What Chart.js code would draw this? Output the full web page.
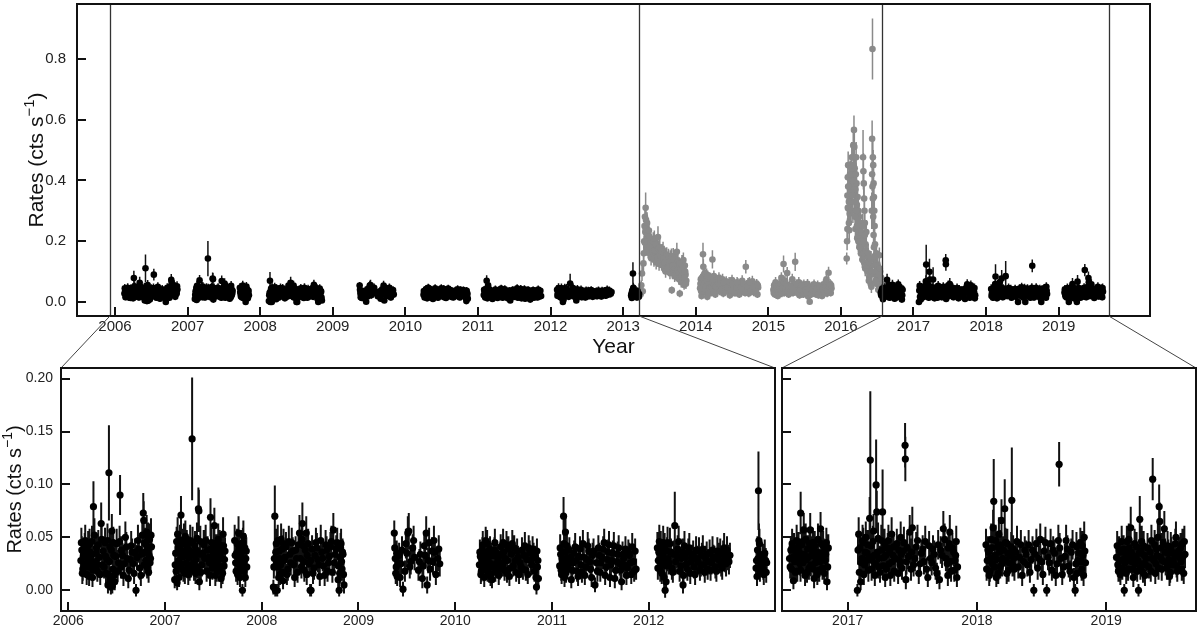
<!DOCTYPE html>
<html>
<head>
<meta charset="utf-8">
<title>Rates light curve</title>
<script src="https://cdn.jsdelivr.net/npm/chart.js@4.4.1/dist/chart.umd.min.js"></script>
<style>
  html, body { margin: 0; padding: 0; background: #fff; }
  #wrap { position: relative; width: 1200px; height: 633px; }
  canvas { position: absolute; left: 0; top: 0; }
</style>
</head>
<body>
<div id="wrap">
  <canvas id="topPanel" width="1200" height="633"></canvas>
  <canvas id="leftPanel" width="1200" height="633"></canvas>
  <canvas id="rightPanel" width="1200" height="633"></canvas>
</div>
<script>
// observing seasons, each point is [year, rate, error]
const bk2006 = [[2006.13,.028,.012],[2006.14,.038,.013],[2006.15,.020,.011],[2006.16,.034,.012],[2006.17,.041,.013],[2006.18,.025,.012],[2006.19,.015,.010],[2006.20,.036,.013],[2006.21,.030,.012],[2006.22,.044,.014],[2006.23,.022,.011],[2006.24,.033,.012],[2006.25,.012,.009],[2006.26,.079,.024],[2006.27,.052,.016],[2006.28,.027,.012],[2006.29,.040,.013],[2006.30,.018,.010],[2006.32,.031,.012],[2006.34,.063,.020],[2006.35,.024,.011],[2006.36,.037,.013],[2006.38,.045,.014],[2006.39,.016,.010],[2006.40,.029,.012],[2006.41,.005,.008],[2006.42,.111,.045],[2006.43,.041,.014],[2006.44,.003,.007],[2006.45,.056,.016],[2006.46,.020,.011],[2006.47,.033,.013],[2006.48,.008,.008],[2006.50,.044,.014],[2006.52,.026,.012],[2006.535,.090,.019],[2006.55,.038,.013],[2006.57,.014,.010],[2006.59,.050,.015],[2006.61,.030,.012],[2006.63,.019,.011],[2006.65,.042,.014],[2006.67,.025,.012],[2006.69,.036,.013],[2006.70,.000,.006],[2006.72,.047,.015],[2006.74,.021,.011],[2006.76,.034,.013],[2006.775,.073,.019],[2006.78,.066,.018],[2006.79,.045,.014],[2006.80,.028,.012],[2006.81,.055,.016],[2006.82,.038,.013],[2006.83,.017,.010],[2006.84,.048,.015],[2006.85,.030,.012],[2006.86,.041,.013],
  [2006.135,.045,.014],[2006.145,.016,.010],[2006.155,.032,.012],[2006.165,.024,.011],[2006.175,.047,.015],[2006.185,.031,.012],[2006.195,.022,.011],[2006.205,.042,.014],[2006.215,.013,.009],[2006.225,.036,.013],[2006.235,.028,.012],[2006.245,.046,.015],[2006.255,.019,.010],[2006.285,.035,.013],[2006.295,.024,.011],[2006.31,.043,.014],[2006.33,.015,.010],[2006.345,.048,.015],[2006.37,.022,.011],[2006.385,.032,.012],[2006.405,.047,.016],[2006.415,.015,.010],[2006.425,.027,.012],[2006.435,.010,.008],[2006.445,.038,.013],[2006.455,.004,.007],[2006.465,.045,.015],[2006.475,.014,.010],[2006.49,.032,.012],[2006.51,.018,.010],[2006.53,.046,.015],[2006.545,.022,.011],[2006.56,.033,.012],[2006.58,.025,.012],[2006.60,.041,.014],[2006.62,.011,.009],[2006.64,.029,.012],[2006.66,.036,.013],[2006.68,.016,.010],[2006.71,.031,.012],[2006.73,.039,.013],[2006.75,.014,.010],[2006.765,.052,.016],[2006.785,.024,.011],[2006.795,.036,.013],[2006.805,.043,.014],[2006.815,.022,.011],[2006.825,.049,.015],[2006.835,.033,.012],[2006.845,.026,.012],[2006.855,.052,.016]];
const bk2007 = [[2007.10,.010,.008],[2007.11,.035,.013],[2007.12,.046,.014],[2007.125,.007,.007],[2007.13,.053,.016],[2007.14,.028,.012],[2007.15,.039,.013],[2007.16,.022,.011],[2007.165,.071,.018],[2007.17,.033,.012],[2007.18,.044,.014],[2007.19,.019,.011],[2007.20,.037,.013],[2007.21,.051,.015],[2007.22,.026,.012],[2007.23,.040,.013],[2007.24,.015,.010],[2007.25,.031,.012],[2007.26,.047,.015],[2007.27,.023,.011],[2007.28,.143,.058],[2007.29,.036,.013],[2007.30,.020,.011],[2007.31,.042,.014],[2007.32,.029,.012],[2007.33,.049,.015],[2007.345,.077,.020],[2007.35,.075,.020],[2007.355,.008,.008],[2007.36,.034,.013],[2007.38,.024,.011],[2007.40,.043,.014],[2007.41,.030,.012],[2007.43,.018,.010],[2007.44,.038,.013],[2007.46,.026,.012],[2007.47,.069,.018],[2007.48,.045,.014],[2007.49,.021,.011],[2007.50,.034,.013],[2007.51,.061,.017],[2007.52,.014,.010],[2007.53,.040,.013],[2007.54,.027,.012],[2007.55,.048,.015],[2007.56,.019,.011],[2007.57,.035,.013],[2007.58,.011,.009],[2007.59,.030,.012],[2007.60,.053,.016],[2007.61,.023,.011],[2007.62,.037,.013],
  [2007.105,.024,.011],[2007.115,.018,.010],[2007.135,.040,.014],[2007.145,.012,.009],[2007.155,.047,.015],[2007.17,.025,.012],[2007.185,.032,.012],[2007.195,.048,.015],[2007.205,.016,.010],[2007.215,.035,.013],[2007.225,.043,.014],[2007.235,.022,.011],[2007.245,.038,.013],[2007.255,.019,.010],[2007.265,.034,.013],[2007.285,.045,.015],[2007.295,.026,.012],[2007.305,.033,.012],[2007.315,.016,.010],[2007.325,.038,.013],[2007.335,.022,.011],[2007.365,.046,.015],[2007.37,.017,.010],[2007.39,.035,.013],[2007.42,.047,.015],[2007.45,.031,.012],[2007.465,.014,.010],[2007.475,.039,.013],[2007.485,.028,.012],[2007.505,.044,.014],[2007.515,.024,.011],[2007.525,.031,.012],[2007.535,.018,.010],[2007.545,.036,.013],[2007.555,.029,.012],[2007.565,.043,.014],[2007.575,.022,.011],[2007.585,.038,.013],[2007.595,.016,.010],[2007.605,.042,.014],[2007.615,.029,.012]];
const bk2007b = [[2007.72,.047,.015],[2007.73,.026,.012],[2007.74,.035,.013],[2007.75,.015,.010],[2007.76,.054,.016],[2007.77,.030,.012],[2007.78,.020,.011],[2007.79,.043,.014],[2007.80,.000,.006],[2007.81,.051,.015],[2007.82,.028,.012],[2007.83,.012,.009],[2007.84,.037,.013],[2007.845,.022,.011],
  [2007.725,.033,.012],[2007.735,.018,.010],[2007.745,.044,.014],[2007.755,.025,.012],[2007.765,.039,.013],[2007.775,.012,.009],[2007.785,.034,.013],[2007.795,.026,.012],[2007.805,.045,.014],[2007.815,.018,.010],[2007.825,.040,.014],[2007.835,.030,.012]];
const bk2008 = [[2008.12,.003,.007],[2008.13,.030,.012],[2008.135,.070,.029],[2008.14,.000,.006],[2008.15,.044,.014],[2008.16,.000,.006],[2008.17,.022,.011],[2008.18,.037,.013],[2008.19,.015,.010],[2008.20,.048,.015],[2008.22,.009,.008],[2008.23,.028,.012],[2008.25,.041,.014],[2008.27,.020,.011],[2008.29,.034,.013],[2008.31,.045,.014],[2008.33,.024,.011],[2008.35,.038,.013],[2008.37,.017,.010],[2008.39,.054,.017],[2008.40,.030,.012],[2008.42,.063,.020],[2008.43,.042,.014],[2008.44,.019,.011],[2008.46,.054,.016],[2008.47,.033,.012],[2008.49,.025,.012],[2008.50,.000,.006],[2008.51,.000,.006],[2008.52,.039,.013],[2008.54,.021,.011],[2008.56,.045,.014],[2008.58,.029,.012],[2008.60,.013,.009],[2008.62,.036,.013],[2008.64,.023,.011],[2008.66,.043,.014],[2008.68,.018,.010],[2008.70,.032,.012],[2008.72,.046,.015],[2008.74,.057,.016],[2008.75,.026,.012],[2008.77,.039,.013],[2008.79,.010,.009],[2008.80,.000,.006],[2008.81,.031,.012],[2008.82,.044,.014],[2008.83,.020,.011],[2008.84,.034,.013],[2008.85,.005,.008],
  [2008.125,.022,.011],[2008.145,.036,.013],[2008.155,.026,.012],[2008.165,.047,.015],[2008.175,.012,.009],[2008.185,.030,.012],[2008.195,.024,.011],[2008.21,.039,.013],[2008.215,.017,.010],[2008.225,.044,.014],[2008.24,.031,.012],[2008.26,.015,.010],[2008.28,.046,.015],[2008.30,.026,.012],[2008.32,.037,.013],[2008.34,.012,.009],[2008.36,.030,.012],[2008.38,.043,.014],[2008.41,.022,.011],[2008.415,.048,.015],[2008.435,.027,.012],[2008.45,.038,.013],[2008.465,.015,.010],[2008.48,.044,.014],[2008.505,.028,.012],[2008.53,.016,.010],[2008.55,.033,.012],[2008.57,.040,.014],[2008.59,.024,.011],[2008.61,.047,.015],[2008.63,.030,.012],[2008.65,.014,.010],[2008.67,.038,.013],[2008.69,.026,.012],[2008.71,.041,.014],[2008.73,.017,.010],[2008.76,.034,.013],[2008.78,.045,.014],[2008.795,.023,.011],[2008.805,.016,.010],[2008.815,.040,.014],[2008.825,.027,.012],[2008.835,.036,.013],[2008.845,.015,.010]];
const bk2009 = [[2009.37,.054,.012],[2009.38,.030,.012],[2009.39,.022,.011],[2009.40,.013,.009],[2009.42,.033,.012],[2009.44,.025,.011],[2009.46,.001,.007],[2009.48,.018,.010],[2009.50,.035,.013],[2009.51,.054,.016],[2009.52,.056,.017],[2009.54,.027,.012],[2009.56,.040,.013],[2009.58,.031,.012],[2009.62,.019,.010],[2009.64,.034,.012],[2009.66,.011,.009],[2009.68,.042,.014],[2009.70,.054,.016],[2009.71,.005,.008],[2009.72,.028,.012],[2009.74,.020,.011],[2009.76,.037,.013],[2009.78,.047,.014],[2009.80,.015,.010],[2009.82,.030,.012],[2009.84,.025,.012],
  [2009.375,.040,.013],[2009.385,.016,.010],[2009.395,.035,.012],[2009.41,.026,.011],[2009.43,.012,.009],[2009.45,.038,.013],[2009.49,.044,.014],[2009.53,.022,.011],[2009.57,.047,.014],[2009.63,.027,.012],[2009.67,.023,.011],[2009.69,.033,.012],[2009.73,.045,.014],[2009.77,.027,.012],[2009.79,.036,.013],[2009.83,.039,.013]];
const bk2010 = [[2010.25,.024,.010],[2010.26,.032,.011],[2010.27,.018,.010],[2010.28,.038,.012],[2010.29,.027,.011],[2010.30,.012,.009],[2010.31,.035,.012],[2010.32,.021,.010],[2010.33,.044,.013],[2010.34,.029,.011],[2010.35,.016,.009],[2010.36,.039,.012],[2010.37,.025,.011],[2010.38,.010,.008],[2010.40,.033,.012],[2010.41,.045,.013],[2010.42,.022,.010],[2010.44,.030,.011],[2010.45,.014,.009],[2010.47,.041,.012],[2010.48,.026,.011],[2010.50,.036,.012],[2010.51,.019,.010],[2010.53,.043,.013],[2010.54,.028,.011],[2010.56,.013,.009],[2010.58,.034,.012],[2010.60,.023,.010],[2010.61,.040,.012],[2010.63,.017,.009],[2010.65,.031,.011],[2010.67,.026,.011],[2010.69,.038,.012],[2010.70,.020,.010],[2010.72,.042,.013],[2010.74,.029,.011],[2010.75,.015,.009],[2010.77,.035,.012],[2010.79,.024,.010],[2010.80,.039,.012],[2010.82,.018,.010],[2010.83,.031,.011],[2010.84,.003,.007],[2010.85,.022,.010],[2010.86,.011,.008],
  [2010.255,.036,.012],[2010.265,.015,.009],[2010.275,.029,.011],[2010.285,.043,.013],[2010.295,.021,.010],[2010.305,.031,.011],[2010.315,.047,.013],[2010.325,.027,.011],[2010.335,.018,.010],[2010.345,.037,.012],[2010.355,.025,.011],[2010.365,.013,.009],[2010.375,.033,.012],[2010.39,.022,.010],[2010.405,.038,.012],[2010.415,.017,.009],[2010.43,.035,.012],[2010.435,.026,.011],[2010.46,.020,.010],[2010.465,.033,.012],[2010.49,.024,.011],[2010.495,.045,.013],[2010.52,.030,.011],[2010.535,.016,.009],[2010.55,.039,.012],[2010.57,.021,.010],[2010.59,.044,.013],[2010.62,.028,.011],[2010.64,.037,.012],[2010.66,.015,.009],[2010.68,.022,.010],[2010.71,.033,.012],[2010.73,.019,.010],[2010.76,.040,.012],[2010.78,.028,.011],[2010.81,.033,.012],[2010.835,.012,.009],[2010.845,.037,.012],[2010.855,.028,.011]];
const bk2011 = [[2011.08,.023,.010],[2011.09,.034,.012],[2011.10,.015,.009],[2011.11,.028,.011],[2011.12,.070,.018],[2011.125,.044,.013],[2011.13,.012,.009],[2011.14,.055,.016],[2011.15,.030,.011],[2011.16,.021,.010],[2011.18,.038,.012],[2011.20,.010,.008],[2011.22,.026,.011],[2011.24,.041,.013],[2011.26,.018,.010],[2011.28,.032,.011],[2011.30,.024,.010],[2011.32,.044,.013],[2011.34,.014,.009],[2011.36,.029,.011],[2011.38,.037,.012],[2011.40,.020,.010],[2011.42,.033,.012],[2011.445,.005,.007],[2011.46,.026,.011],[2011.48,.040,.012],[2011.50,.017,.009],[2011.52,.031,.011],[2011.54,.045,.013],[2011.56,.022,.010],[2011.58,.036,.012],[2011.60,.012,.009],[2011.62,.028,.011],[2011.64,.042,.013],[2011.66,.019,.010],[2011.68,.034,.012],[2011.70,.025,.011],[2011.72,.008,.008],[2011.74,.030,.011],[2011.76,.039,.012],[2011.78,.021,.010],[2011.80,.033,.012],[2011.82,.015,.009],[2011.84,.027,.011],[2011.86,.037,.012],[2011.87,.020,.010],
  [2011.085,.040,.013],[2011.095,.019,.010],[2011.105,.030,.011],[2011.115,.024,.011],[2011.135,.036,.012],[2011.145,.017,.010],[2011.155,.042,.013],[2011.17,.025,.011],[2011.19,.031,.011],[2011.21,.019,.010],[2011.23,.035,.012],[2011.25,.028,.011],[2011.27,.013,.009],[2011.29,.039,.012],[2011.31,.017,.010],[2011.33,.031,.011],[2011.35,.022,.010],[2011.37,.042,.013],[2011.39,.027,.011],[2011.41,.012,.009],[2011.43,.037,.012],[2011.47,.018,.010],[2011.49,.033,.012],[2011.51,.026,.011],[2011.53,.039,.012],[2011.55,.014,.009],[2011.57,.029,.011],[2011.59,.043,.013],[2011.61,.024,.011],[2011.63,.035,.012],[2011.65,.011,.009],[2011.67,.027,.011],[2011.69,.040,.012],[2011.71,.019,.010],[2011.73,.034,.012],[2011.75,.024,.011],[2011.77,.014,.009],[2011.79,.036,.012],[2011.81,.026,.011],[2011.83,.041,.013],[2011.85,.018,.010]];
const bk2012 = [[2012.09,.040,.015],[2012.10,.028,.012],[2012.11,.046,.016],[2012.12,.019,.011],[2012.13,.035,.013],[2012.14,.024,.012],[2012.15,.045,.016],[2012.16,.012,.010],[2012.17,.000,.007],[2012.18,.008,.009],[2012.19,.037,.013],[2012.20,.030,.012],[2012.22,.044,.015],[2012.24,.021,.011],[2012.26,.034,.013],[2012.27,.061,.032],[2012.28,.027,.012],[2012.30,.039,.013],[2012.32,.018,.010],[2012.34,.030,.012],[2012.355,.005,.008],[2012.37,.042,.014],[2012.39,.025,.011],[2012.41,.036,.013],[2012.43,.016,.010],[2012.45,.031,.012],[2012.47,.022,.011],[2012.49,.038,.013],[2012.51,.027,.012],[2012.53,.019,.010],[2012.55,.033,.012],[2012.57,.024,.011],[2012.59,.030,.012],[2012.61,.020,.010],[2012.63,.035,.013],[2012.65,.026,.011],[2012.67,.031,.012],[2012.69,.022,.011],[2012.71,.037,.013],[2012.73,.028,.012],[2012.75,.024,.011],[2012.77,.034,.013],[2012.79,.029,.012],[2012.81,.038,.013],[2012.83,.027,.012],[2012.84,.033,.012],
  [2012.095,.021,.011],[2012.105,.036,.013],[2012.115,.029,.012],[2012.125,.042,.014],[2012.135,.016,.010],[2012.145,.033,.012],[2012.155,.027,.012],[2012.165,.040,.014],[2012.185,.023,.011],[2012.195,.045,.015],[2012.21,.026,.011],[2012.23,.036,.013],[2012.25,.017,.010],[2012.29,.033,.012],[2012.31,.046,.015],[2012.33,.023,.011],[2012.35,.036,.013],[2012.36,.014,.010],[2012.38,.031,.012],[2012.40,.020,.011],[2012.42,.040,.014],[2012.44,.027,.012],[2012.46,.034,.013],[2012.48,.015,.010],[2012.50,.030,.012],[2012.52,.037,.013],[2012.54,.024,.011],[2012.56,.039,.013],[2012.58,.017,.010],[2012.60,.034,.012],[2012.62,.027,.012],[2012.64,.019,.010],[2012.66,.038,.013],[2012.68,.030,.012],[2012.70,.018,.010],[2012.72,.033,.012],[2012.74,.036,.013],[2012.76,.021,.011],[2012.78,.040,.014],[2012.80,.025,.012],[2012.82,.031,.012]];
const bk2013 = [[2013.11,.021,.010],[2013.12,.013,.009],[2013.13,.030,.012],[2013.135,.094,.037],[2013.14,.047,.016],[2013.145,.044,.014],[2013.15,.018,.010],[2013.16,.024,.011],[2013.18,.032,.012],[2013.19,.015,.010],[2013.21,.028,.012],[2013.22,.026,.011],
  [2013.115,.028,.012],[2013.125,.038,.013],[2013.155,.033,.012],[2013.17,.026,.011],[2013.185,.020,.010],[2013.20,.035,.013],[2013.215,.017,.010]];
const bk2016 = [[2016.55,.030,.012],[2016.56,.038,.013],[2016.565,.020,.011],[2016.57,.044,.014],[2016.58,.009,.008],[2016.59,.027,.012],[2016.60,.035,.013],[2016.61,.018,.010],[2016.62,.041,.014],[2016.63,.025,.011],[2016.636,.073,.020],[2016.64,.032,.012],[2016.65,.046,.014],[2016.66,.057,.016],[2016.67,.014,.010],[2016.68,.029,.012],[2016.69,.039,.013],[2016.70,.021,.011],[2016.71,.057,.016],[2016.72,.033,.012],[2016.73,.045,.014],[2016.74,.011,.009],[2016.75,.026,.012],[2016.76,.036,.013],[2016.77,.048,.015],[2016.78,.019,.011],[2016.79,.058,.016],[2016.80,.031,.012],[2016.81,.042,.014],[2016.82,.016,.010],[2016.83,.034,.013],[2016.84,.008,.008],[2016.85,.040,.013],
  [2016.555,.022,.011],[2016.575,.031,.012],[2016.585,.040,.014],[2016.595,.017,.010],[2016.605,.047,.015],[2016.615,.029,.012],[2016.625,.036,.013],[2016.635,.019,.011],[2016.645,.043,.014],[2016.655,.026,.012],[2016.665,.034,.013],[2016.675,.048,.015],[2016.685,.017,.010],[2016.695,.031,.012],[2016.705,.044,.014],[2016.715,.024,.011],[2016.725,.038,.013],[2016.735,.020,.011],[2016.745,.042,.014],[2016.755,.030,.012],[2016.765,.015,.010],[2016.775,.035,.013],[2016.785,.027,.012],[2016.795,.044,.014],[2016.805,.021,.011],[2016.815,.036,.013],[2016.825,.028,.012],[2016.835,.045,.014],[2016.845,.022,.011]];
const bk2017 = [[2017.075,.000,.006],[2017.08,.038,.014],[2017.085,.053,.016],[2017.09,.017,.010],[2017.10,.008,.008],[2017.11,.030,.012],[2017.12,.045,.014],[2017.13,.024,.011],[2017.14,.050,.015],[2017.15,.035,.013],[2017.16,.019,.011],[2017.17,.068,.020],[2017.175,.123,.065],[2017.18,.042,.014],[2017.19,.028,.012],[2017.20,.056,.016],[2017.21,.014,.010],[2017.22,.0995,.043],[2017.225,.074,.020],[2017.23,.036,.013],[2017.24,.022,.011],[2017.26,.047,.015],[2017.27,.074,.040],[2017.28,.031,.012],[2017.29,.012,.009],[2017.31,.040,.014],[2017.32,.025,.012],[2017.34,.053,.016],[2017.35,.033,.012],[2017.36,.018,.010],[2017.38,.044,.014],[2017.40,.028,.012],[2017.41,.050,.015],[2017.42,.021,.011],[2017.43,.037,.013],[2017.444,.137,.021],[2017.446,.124,.021],[2017.45,.010,.009],[2017.47,.032,.012],[2017.48,.055,.016],[2017.50,.059,.020],[2017.51,.024,.011],[2017.53,.041,.014],[2017.55,.016,.010],[2017.57,.035,.013],[2017.59,.027,.012],[2017.60,.046,.015],[2017.62,.012,.009],[2017.64,.030,.012],[2017.66,.039,.013],[2017.68,.021,.011],[2017.70,.043,.014],[2017.71,.010,.009],[2017.73,.033,.012],[2017.74,.058,.017],[2017.75,.048,.015],[2017.77,.025,.012],[2017.78,.040,.014],[2017.79,.055,.016],[2017.80,.018,.010],[2017.82,.036,.013],[2017.83,.028,.012],[2017.84,.046,.015],[2017.85,.022,.011],
  [2017.095,.040,.014],[2017.105,.026,.012],[2017.115,.047,.015],[2017.125,.015,.010],[2017.135,.036,.013],[2017.145,.028,.012],[2017.155,.043,.014],[2017.165,.031,.012],[2017.185,.020,.011],[2017.195,.046,.015],[2017.205,.033,.012],[2017.215,.025,.012],[2017.235,.049,.015],[2017.245,.030,.012],[2017.25,.017,.010],[2017.265,.038,.013],[2017.275,.023,.011],[2017.285,.044,.014],[2017.295,.033,.012],[2017.30,.020,.011],[2017.315,.047,.015],[2017.325,.036,.013],[2017.33,.014,.010],[2017.345,.027,.012],[2017.355,.041,.014],[2017.37,.030,.012],[2017.39,.016,.010],[2017.395,.038,.013],[2017.405,.024,.011],[2017.415,.034,.013],[2017.435,.045,.015],[2017.455,.027,.012],[2017.46,.040,.014],[2017.49,.020,.011],[2017.495,.036,.013],[2017.52,.030,.012],[2017.54,.047,.015],[2017.56,.025,.012],[2017.58,.039,.013],[2017.61,.020,.011],[2017.63,.042,.014],[2017.65,.026,.012],[2017.67,.034,.013],[2017.69,.016,.010],[2017.72,.038,.013],[2017.76,.030,.012],[2017.775,.014,.010],[2017.785,.044,.014],[2017.795,.027,.012],[2017.81,.040,.014],[2017.825,.019,.011],[2017.835,.033,.012],[2017.845,.012,.009]];
const bk2018 = [[2018.07,.043,.015],[2018.08,.028,.012],[2018.09,.036,.013],[2018.10,.018,.010],[2018.11,.048,.015],[2018.12,.025,.012],[2018.125,.059,.017],[2018.13,.084,.040],[2018.14,.033,.012],[2018.15,.012,.009],[2018.16,.041,.014],[2018.17,.053,.016],[2018.18,.022,.011],[2018.19,.066,.020],[2018.20,.030,.012],[2018.215,.077,.028],[2018.22,.045,.014],[2018.23,.016,.010],[2018.24,.035,.013],[2018.25,.026,.012],[2018.27,.085,.050],[2018.28,.039,.013],[2018.29,.020,.011],[2018.31,.046,.015],[2018.33,.031,.012],[2018.35,.014,.010],[2018.37,.038,.013],[2018.39,.024,.011],[2018.40,.043,.014],[2018.42,.029,.012],[2018.44,.000,.006],[2018.45,.034,.013],[2018.47,.021,.011],[2018.49,.048,.015],[2018.50,.027,.012],[2018.52,.037,.013],[2018.54,.000,.006],[2018.55,.031,.012],[2018.57,.044,.014],[2018.58,.019,.010],[2018.60,.035,.013],[2018.62,.025,.012],[2018.636,.119,.021],[2018.64,.040,.014],[2018.66,.015,.010],[2018.68,.032,.012],[2018.69,.047,.015],[2018.71,.023,.011],[2018.73,.036,.013],[2018.75,.012,.009],[2018.76,.000,.006],[2018.77,.041,.014],[2018.78,.028,.012],[2018.80,.045,.014],[2018.81,.020,.011],[2018.82,.033,.012],[2018.83,.050,.015],[2018.84,.026,.012],
  [2018.075,.020,.011],[2018.085,.038,.013],[2018.095,.014,.010],[2018.105,.030,.012],[2018.115,.040,.014],[2018.135,.022,.011],[2018.145,.047,.015],[2018.155,.029,.012],[2018.165,.016,.010],[2018.175,.036,.013],[2018.185,.043,.014],[2018.195,.025,.012],[2018.205,.038,.013],[2018.225,.028,.012],[2018.235,.044,.014],[2018.245,.019,.011],[2018.255,.033,.012],[2018.265,.041,.014],[2018.275,.024,.011],[2018.285,.030,.012],[2018.30,.036,.013],[2018.32,.022,.011],[2018.34,.043,.014],[2018.36,.027,.012],[2018.38,.034,.013],[2018.41,.017,.010],[2018.43,.038,.013],[2018.46,.044,.014],[2018.48,.030,.012],[2018.51,.015,.010],[2018.53,.045,.015],[2018.56,.026,.012],[2018.59,.038,.013],[2018.61,.014,.010],[2018.63,.047,.015],[2018.65,.030,.012],[2018.67,.022,.011],[2018.70,.039,.013],[2018.72,.018,.010],[2018.74,.043,.014],[2018.765,.025,.012],[2018.775,.016,.010],[2018.79,.035,.013],[2018.805,.027,.012],[2018.815,.042,.014],[2018.825,.014,.010],[2018.835,.037,.013]];
const bk2019 = [[2019.08,.031,.012],[2019.09,.024,.011],[2019.10,.038,.013],[2019.11,.015,.010],[2019.12,.046,.015],[2019.13,.029,.012],[2019.14,.000,.006],[2019.15,.035,.013],[2019.16,.046,.015],[2019.17,.020,.011],[2019.18,.040,.014],[2019.19,.059,.020],[2019.20,.027,.012],[2019.21,.012,.009],[2019.22,.044,.014],[2019.23,.032,.012],[2019.24,.018,.010],[2019.25,.000,.006],[2019.26,.067,.022],[2019.27,.037,.013],[2019.28,.025,.012],[2019.29,.042,.014],[2019.30,.014,.010],[2019.31,.030,.012],[2019.33,.022,.011],[2019.34,.036,.013],[2019.35,.047,.015],[2019.36,.105,.020],[2019.37,.028,.012],[2019.38,.016,.010],[2019.39,.039,.013],[2019.40,.050,.015],[2019.41,.079,.021],[2019.415,.065,.018],[2019.42,.031,.012],[2019.43,.020,.011],[2019.44,.045,.014],[2019.45,.058,.017],[2019.46,.026,.012],[2019.48,.035,.013],[2019.49,.013,.009],[2019.50,.041,.014],[2019.51,.024,.011],[2019.53,.033,.012],[2019.54,.050,.015],[2019.55,.018,.010],[2019.56,.037,.013],[2019.58,.027,.012],[2019.59,.044,.014],[2019.60,.016,.010],[2019.61,.034,.013],
  [2019.085,.042,.014],[2019.095,.018,.010],[2019.105,.028,.012],[2019.115,.036,.013],[2019.125,.021,.011],[2019.135,.039,.013],[2019.145,.026,.012],[2019.155,.016,.010],[2019.165,.032,.012],[2019.175,.048,.015],[2019.185,.028,.012],[2019.195,.036,.013],[2019.205,.020,.011],[2019.215,.031,.012],[2019.225,.025,.012],[2019.235,.041,.014],[2019.245,.028,.012],[2019.255,.035,.013],[2019.265,.021,.011],[2019.275,.046,.015],[2019.285,.017,.010],[2019.295,.033,.012],[2019.305,.024,.011],[2019.32,.040,.014],[2019.345,.018,.010],[2019.355,.030,.012],[2019.375,.043,.014],[2019.385,.025,.012],[2019.395,.033,.012],[2019.405,.021,.011],[2019.425,.040,.014],[2019.435,.028,.012],[2019.455,.036,.013],[2019.47,.021,.011],[2019.475,.042,.014],[2019.485,.029,.012],[2019.495,.017,.010],[2019.505,.037,.013],[2019.52,.027,.012],[2019.535,.044,.014],[2019.545,.023,.011],[2019.565,.031,.012],[2019.575,.040,.014],[2019.585,.020,.011],[2019.595,.032,.012],[2019.605,.046,.015]];

// bright phase, drawn in grey
const gy2013 = [[2013.21,.030,.012],[2013.22,.018,.010],[2013.23,.040,.014],[2013.24,.025,.012],[2013.25,.055,.016],[2013.26,.094,.025],[2013.27,.035,.013],[2013.28,.127,.025],[2013.29,.200,.030],[2013.295,.250,.035],[2013.30,.280,.035],[2013.305,.230,.030],[2013.31,.310,.050],[2013.315,.270,.035],[2013.32,.245,.030],[2013.325,.210,.030],[2013.33,.260,.035],[2013.34,.225,.030],[2013.35,.190,.028],[2013.36,.215,.030],[2013.37,.175,.026],[2013.38,.200,.028],[2013.39,.165,.025],[2013.40,.190,.028],[2013.41,.155,.025],[2013.42,.180,.027],[2013.43,.205,.030],[2013.44,.150,.024],[2013.45,.175,.026],[2013.46,.140,.024],[2013.47,.165,.025],[2013.48,.214,.035],[2013.49,.150,.024],[2013.50,.170,.026],[2013.51,.135,.023],[2013.52,.160,.025],[2013.53,.125,.022],[2013.54,.150,.024],[2013.55,.170,.028],[2013.56,.130,.022],[2013.57,.145,.024],[2013.58,.115,.021],[2013.59,.140,.023],[2013.60,.155,.025],[2013.61,.120,.021],[2013.62,.135,.023],[2013.63,.105,.020],[2013.64,.130,.023],[2013.65,.145,.025],[2013.66,.110,.021],[2013.67,.039,.012],[2013.675,.125,.022],[2013.68,.095,.020],[2013.69,.150,.028],[2013.70,.115,.021],[2013.71,.085,.019],[2013.72,.130,.023],[2013.73,.100,.020],[2013.74,.165,.030],[2013.75,.090,.019],[2013.76,.115,.021],[2013.77,.075,.018],[2013.78,.028,.012],[2013.785,.120,.022],[2013.79,.095,.020],[2013.80,.065,.017],[2013.81,.130,.025],[2013.82,.080,.018],[2013.83,.138,.025],[2013.835,.105,.021],[2013.84,.056,.016],[2013.85,.120,.025],[2013.86,.090,.020],[2013.87,.070,.018],
  [2013.285,.160,.028],[2013.30,.195,.030],[2013.31,.240,.035],[2013.32,.180,.028],[2013.335,.200,.030],[2013.345,.170,.027],[2013.355,.235,.032],[2013.365,.160,.026],[2013.375,.195,.028],[2013.385,.145,.025],[2013.395,.185,.027],[2013.405,.170,.026],[2013.415,.200,.029],[2013.425,.140,.024],[2013.435,.170,.026],[2013.445,.190,.028],[2013.455,.130,.023],[2013.465,.185,.027],[2013.475,.145,.024],[2013.485,.175,.027],[2013.495,.125,.022],[2013.505,.180,.027],[2013.515,.150,.024],[2013.525,.140,.024],[2013.535,.165,.026],[2013.545,.120,.022],[2013.555,.145,.024],[2013.565,.160,.025],[2013.575,.130,.023],[2013.585,.100,.020],[2013.595,.155,.025],[2013.605,.135,.023],[2013.615,.110,.021],[2013.625,.150,.025],[2013.635,.125,.022],[2013.645,.095,.020],[2013.655,.135,.023],[2013.665,.150,.026],[2013.685,.120,.022],[2013.695,.105,.021],[2013.705,.140,.024],[2013.715,.110,.021],[2013.725,.090,.019],[2013.735,.125,.022],[2013.745,.105,.021],[2013.755,.135,.024],[2013.765,.095,.020],[2013.775,.125,.022],[2013.795,.110,.021],[2013.805,.085,.019],[2013.815,.115,.022],[2013.825,.095,.020],[2013.845,.080,.019],[2013.855,.100,.021],[2013.865,.060,.017]];
const gy2014 = [[2014.06,.045,.015],[2014.07,.075,.018],[2014.08,.020,.012],[2014.09,.060,.016],[2014.10,.157,.038],[2014.105,.116,.025],[2014.11,.085,.019],[2014.12,.035,.013],[2014.13,.070,.017],[2014.14,.050,.015],[2014.15,.090,.020],[2014.16,.017,.011],[2014.17,.065,.017],[2014.18,.040,.014],[2014.19,.080,.018],[2014.20,.055,.016],[2014.21,.030,.012],[2014.22,.072,.018],[2014.23,.140,.030],[2014.24,.048,.015],[2014.25,.085,.019],[2014.26,.062,.017],[2014.27,.025,.012],[2014.29,.070,.017],[2014.30,.045,.015],[2014.32,.080,.018],[2014.33,.035,.013],[2014.35,.058,.016],[2014.37,.075,.018],[2014.38,.028,.012],[2014.40,.052,.015],[2014.42,.068,.017],[2014.43,.038,.013],[2014.45,.060,.016],[2014.47,.022,.011],[2014.48,.050,.015],[2014.50,.072,.018],[2014.52,.040,.014],[2014.54,.058,.016],[2014.55,.030,.012],[2014.57,.065,.017],[2014.59,.045,.015],[2014.60,.025,.012],[2014.62,.055,.016],[2014.64,.070,.018],[2014.65,.035,.013],[2014.67,.050,.015],[2014.69,.116,.022],[2014.70,.040,.014],[2014.72,.062,.017],[2014.73,.028,.012],[2014.75,.055,.016],[2014.77,.042,.014],[2014.78,.068,.018],[2014.80,.032,.013],[2014.81,.052,.015],[2014.83,.045,.015],[2014.84,.060,.016],[2014.85,.025,.012],[2014.86,.048,.015],
  [2014.065,.060,.016],[2014.075,.035,.013],[2014.085,.080,.018],[2014.095,.045,.015],[2014.115,.060,.016],[2014.125,.095,.020],[2014.135,.040,.014],[2014.145,.075,.018],[2014.155,.055,.016],[2014.165,.085,.019],[2014.175,.030,.012],[2014.185,.060,.016],[2014.195,.045,.015],[2014.205,.078,.018],[2014.215,.050,.015],[2014.235,.065,.017],[2014.245,.035,.013],[2014.255,.055,.016],[2014.28,.050,.015],[2014.31,.062,.017],[2014.34,.072,.018],[2014.36,.042,.014],[2014.39,.065,.017],[2014.41,.035,.013],[2014.44,.048,.015],[2014.46,.065,.017],[2014.49,.038,.013],[2014.51,.058,.016],[2014.53,.030,.012],[2014.56,.048,.015],[2014.58,.062,.017],[2014.61,.038,.013],[2014.63,.048,.015],[2014.66,.060,.016],[2014.68,.030,.012],[2014.71,.050,.015],[2014.74,.065,.017],[2014.76,.035,.013],[2014.79,.050,.015],[2014.82,.038,.013],[2014.855,.055,.016]];
const gy2015 = [[2015.07,.040,.014],[2015.08,.055,.016],[2015.09,.025,.012],[2015.10,.065,.017],[2015.11,.035,.013],[2015.12,.048,.015],[2015.13,.020,.011],[2015.15,.060,.016],[2015.16,.038,.014],[2015.18,.080,.018],[2015.19,.050,.015],[2015.21,.125,.028],[2015.22,.030,.012],[2015.23,.070,.017],[2015.25,.045,.015],[2015.26,.095,.020],[2015.28,.025,.012],[2015.29,.055,.016],[2015.31,.040,.014],[2015.33,.075,.018],[2015.34,.030,.012],[2015.36,.060,.016],[2015.37,.132,.030],[2015.38,.048,.015],[2015.40,.035,.013],[2015.42,.065,.017],[2015.43,.022,.011],[2015.45,.050,.015],[2015.47,.038,.014],[2015.49,.058,.016],[2015.50,.028,.012],[2015.52,.045,.015],[2015.54,.060,.016],[2015.55,.018,.011],[2015.57,.001,.008],[2015.58,.040,.014],[2015.60,.052,.015],[2015.62,.030,.012],[2015.64,.048,.015],[2015.66,.025,.012],[2015.68,.055,.016],[2015.70,.035,.013],[2015.72,.045,.015],[2015.74,.020,.011],[2015.76,.058,.016],[2015.78,.038,.014],[2015.80,.075,.018],[2015.81,.028,.012],[2015.82,.050,.015],[2015.83,.096,.020],[2015.84,.040,.014],[2015.85,.060,.016],[2015.86,.030,.012],[2015.87,.045,.015],
  [2015.075,.030,.012],[2015.085,.045,.015],[2015.095,.058,.016],[2015.105,.028,.012],[2015.115,.050,.015],[2015.125,.038,.014],[2015.14,.052,.015],[2015.145,.030,.012],[2015.155,.045,.015],[2015.17,.035,.013],[2015.175,.060,.016],[2015.185,.028,.012],[2015.20,.045,.015],[2015.215,.065,.017],[2015.24,.040,.014],[2015.245,.058,.016],[2015.27,.035,.013],[2015.275,.050,.015],[2015.30,.030,.012],[2015.32,.050,.015],[2015.35,.040,.014],[2015.39,.058,.016],[2015.41,.028,.012],[2015.44,.042,.014],[2015.46,.055,.016],[2015.48,.025,.012],[2015.51,.040,.014],[2015.53,.030,.012],[2015.56,.045,.015],[2015.59,.025,.012],[2015.61,.040,.014],[2015.63,.058,.016],[2015.65,.035,.013],[2015.67,.045,.015],[2015.69,.022,.011],[2015.71,.050,.015],[2015.73,.032,.012],[2015.75,.042,.014],[2015.77,.028,.012],[2015.79,.048,.015],[2015.815,.038,.014],[2015.845,.050,.015],[2015.865,.055,.016]];
const gy2016 = [[2016.08,.143,.020],[2016.09,.350,.040],[2016.095,.410,.045],[2016.10,.450,.045],[2016.105,.307,.040],[2016.11,.260,.035],[2016.115,.236,.035],[2016.12,.380,.045],[2016.13,.330,.040],[2016.14,.420,.045],[2016.15,.476,.050],[2016.16,.400,.045],[2016.17,.515,.050],[2016.18,.566,.047],[2016.185,.510,.050],[2016.19,.440,.045],[2016.20,.370,.045],[2016.21,.476,.050],[2016.215,.390,.045],[2016.22,.320,.040],[2016.23,.345,.045],[2016.24,.300,.040],[2016.25,.280,.040],[2016.26,.236,.035],[2016.27,.260,.040],[2016.28,.190,.030],[2016.29,.215,.035],[2016.30,.170,.030],[2016.305,.476,.090],[2016.31,.430,.060],[2016.315,.390,.050],[2016.32,.340,.045],[2016.325,.300,.040],[2016.33,.260,.040],[2016.34,.190,.035],[2016.35,.230,.040],[2016.36,.150,.030],[2016.37,.127,.030],[2016.38,.100,.025],[2016.39,.083,.020],[2016.40,.110,.025],[2016.41,.060,.020],[2016.42,.050,.020],[2016.425,.300,.060],[2016.43,.537,.060],[2016.435,.832,.100],[2016.44,.476,.055],[2016.445,.450,.050],[2016.45,.390,.050],[2016.455,.345,.045],[2016.46,.300,.040],[2016.465,.250,.040],[2016.47,.190,.035],[2016.48,.127,.030],[2016.49,.160,.030],[2016.50,.083,.025],[2016.51,.100,.025],[2016.52,.070,.020],[2016.53,.154,.025],[2016.54,.100,.020],[2016.55,.060,.018],[2016.56,.028,.015],[2016.57,.045,.015],[2016.58,.015,.012],
  [2016.085,.200,.030],[2016.09,.240,.035],[2016.095,.310,.040],[2016.10,.380,.045],[2016.11,.330,.040],[2016.12,.290,.040],[2016.125,.420,.045],[2016.135,.360,.040],[2016.14,.300,.040],[2016.145,.440,.045],[2016.155,.350,.040],[2016.165,.300,.040],[2016.175,.450,.050],[2016.18,.400,.045],[2016.19,.330,.040],[2016.195,.280,.040],[2016.20,.240,.035],[2016.205,.420,.050],[2016.21,.300,.040],[2016.22,.250,.035],[2016.225,.210,.035],[2016.235,.270,.040],[2016.24,.200,.035],[2016.245,.230,.035],[2016.255,.180,.030],[2016.265,.200,.030],[2016.275,.160,.030],[2016.285,.230,.035],[2016.295,.140,.028],[2016.30,.250,.040],[2016.31,.200,.035],[2016.315,.160,.030],[2016.32,.130,.028],[2016.33,.220,.035],[2016.335,.110,.025],[2016.345,.170,.030],[2016.355,.120,.028],[2016.365,.100,.025],[2016.375,.160,.030],[2016.385,.070,.020],[2016.395,.130,.028],[2016.405,.090,.022],[2016.415,.140,.028],[2016.425,.100,.025],[2016.43,.420,.055],[2016.435,.380,.050],[2016.44,.340,.045],[2016.445,.280,.040],[2016.45,.220,.035],[2016.455,.180,.030],[2016.46,.150,.030],[2016.465,.120,.028],[2016.47,.090,.022],[2016.475,.070,.020],[2016.485,.100,.022],[2016.495,.060,.018],[2016.505,.120,.025],[2016.515,.040,.016],[2016.525,.090,.020],[2016.535,.110,.022],[2016.545,.050,.016],[2016.555,.080,.018],[2016.565,.040,.015],[2016.575,.060,.016]];

const topYears = [2006, 2007, 2008, 2009, 2010, 2011, 2012, 2013, 2014, 2015, 2016, 2017, 2018, 2019];
const leftYears = [2006, 2007, 2008, 2009, 2010, 2011, 2012];
const rightYears = [2017, 2018, 2019];
const topRateTicks = [0, 0.2, 0.4, 0.6, 0.8];
const zoomRateTicks = [0, 0.05, 0.1, 0.15, 0.2];
const leftZoom = [2005.93, 2013.22];
const rightZoom = [2016.57, 2019.69];
const rateLabel = ['Rates (cts s', '\u22121', ')'];

const blackEarly = [bk2006, bk2007, bk2007b, bk2008, bk2009, bk2010, bk2011, bk2012, bk2013];
const blackLate = [bk2016, bk2017, bk2018, bk2019];
const greySeasons = [gy2013, gy2014, gy2015, gy2016];

const FONT = '"Liberation Sans", Arial, Helvetica, sans-serif';
Chart.defaults.font.family = FONT;

const toPoints = seasons => seasons.flat().map(([x, y, err]) => ({ x, y, err }));

// vertical error bars, drawn just under each dataset's markers
const errorBars = {
    id: 'errorBars',
    beforeDatasetDraw(chart, args) {
        const ds = chart.data.datasets[args.index];
        const xs = chart.scales.x, ys = chart.scales.y, a = chart.chartArea, ctx = chart.ctx;
        ctx.save();
        ctx.beginPath();
        ctx.rect(a.left, a.top, a.right - a.left, a.bottom - a.top);
        ctx.clip();
        ctx.strokeStyle = ds.errColor;
        ctx.lineWidth = ds.errWidth;
        ctx.beginPath();
        for (const p of ds.data) {
            const px = xs.getPixelForValue(p.x);
            ctx.moveTo(px, ys.getPixelForValue(p.y - p.err));
            ctx.lineTo(px, ys.getPixelForValue(p.y + p.err));
        }
        ctx.stroke();
        ctx.restore();
    }
};

let topChart = null;

// box, inward ticks, zoom markers, connector lines and y title
function makeFrame(cfg) {
    return {
        id: 'frame',
        afterDraw(chart) {
            const ctx = chart.ctx, a = chart.chartArea;
            const xs = chart.scales.x, ys = chart.scales.y;
            ctx.save();
            ctx.strokeStyle = '#111';
            ctx.lineWidth = 2;
            ctx.beginPath();
            xs.ticks.forEach(t => {
                const px = Math.round(xs.getPixelForValue(t.value));
                ctx.moveTo(px, a.bottom);
                ctx.lineTo(px, a.bottom - 9);
            });
            ys.ticks.forEach(t => {
                const py = Math.round(ys.getPixelForValue(t.value));
                ctx.moveTo(a.left, py);
                ctx.lineTo(a.left + 9, py);
            });
            ctx.stroke();

            if (cfg.marks) {
                ctx.strokeStyle = '#333';
                ctx.lineWidth = 1.3;
                ctx.beginPath();
                cfg.marks.forEach(v => {
                    const px = Math.round(xs.getPixelForValue(v)) + 0.5;
                    ctx.moveTo(px, a.top);
                    ctx.lineTo(px, a.bottom);
                });
                ctx.stroke();
            }

            if (cfg.links && topChart) {
                const tx = topChart.scales.x, tb = topChart.chartArea.bottom;
                ctx.strokeStyle = '#444';
                ctx.lineWidth = 1;
                ctx.beginPath();
                ctx.moveTo(tx.getPixelForValue(cfg.links[0]), tb);
                ctx.lineTo(a.left, a.top);
                ctx.moveTo(tx.getPixelForValue(cfg.links[1]), tb);
                ctx.lineTo(a.right, a.top);
                ctx.stroke();
            }

            ctx.strokeStyle = '#111';
            ctx.lineWidth = 2;
            ctx.strokeRect(a.left, a.top, a.right - a.left, a.bottom - a.top);

            if (cfg.yTitle) {
                const { x, size } = cfg.yTitle;
                const small = Math.round(size * 0.7);
                ctx.translate(x, (a.top + a.bottom) / 2);
                ctx.rotate(-Math.PI / 2);
                ctx.fillStyle = '#111';
                ctx.textAlign = 'left';
                ctx.textBaseline = 'alphabetic';
                ctx.font = `${size}px ${FONT}`;
                const w1 = ctx.measureText(rateLabel[0]).width;
                const w3 = ctx.measureText(rateLabel[2]).width;
                ctx.font = `${small}px ${FONT}`;
                const w2 = ctx.measureText(rateLabel[1]).width;
                let cx = -(w1 + w2 + w3) / 2;
                ctx.font = `${size}px ${FONT}`;
                ctx.fillText(rateLabel[0], cx, 0);
                cx += w1;
                ctx.font = `${small}px ${FONT}`;
                ctx.fillText(rateLabel[1], cx, -size * 0.45);
                cx += w2;
                ctx.font = `${size}px ${FONT}`;
                ctx.fillText(rateLabel[2], cx, 0);
            }
            ctx.restore();
        }
    };
}

function xAxis(min, max, years, size, height, title) {
    return {
        type: 'linear', position: 'bottom', min, max,
        afterBuildTicks: s => { s.ticks = years.map(v => ({ value: v })); },
        afterFit: s => { s.height = height; s.paddingLeft = 0; s.paddingRight = 0; },
        grid: { display: false, drawTicks: false },
        border: { display: false },
        ticks: { padding: 2, color: '#222', font: { size }, maxRotation: 0, callback: v => String(v) },
        title: title ? { display: true, text: title, color: '#111', font: { size: 21 }, padding: 0 } : { display: false }
    };
}

function yAxis(min, max, ticks, digits, width, pad, show) {
    return {
        type: 'linear', min, max,
        afterBuildTicks: s => { s.ticks = ticks.map(v => ({ value: v })); },
        afterFit: s => { s.width = width; s.paddingTop = 0; s.paddingBottom = 0; },
        grid: { display: false, drawTicks: false },
        border: { display: false },
        ticks: { display: show, padding: pad, color: '#222', font: { size: digits === 1 ? 15 : 14 }, callback: v => v.toFixed(digits) }
    };
}

function blackSet(points, radius, errWidth) {
    return { data: points, backgroundColor: '#000', borderWidth: 0, pointRadius: radius, errColor: '#111', errWidth };
}

const common = {
    responsive: false,
    animation: false,
    events: [],
    devicePixelRatio: 1,
    plugins: { legend: { display: false }, tooltip: { enabled: false } }
};

topChart = new Chart(document.getElementById('topPanel'), {
    type: 'scatter',
    data: {
        datasets: [
            blackSet(toPoints(blackEarly.concat(blackLate)), 3.3, 1.5),
            { data: toPoints(greySeasons), backgroundColor: '#8a8a8a', borderWidth: 0, pointRadius: 3.3, errColor: '#8a8a8a', errWidth: 1.5 }
        ]
    },
    options: {
        ...common,
        layout: { padding: { left: 27, right: 50, top: 3, bottom: 273 } },
        scales: {
            x: xAxis(2005.4765, 2020.258, topYears, 15, 44, 'Year'),
            y: yAxis(-0.046, 0.98, topRateTicks, 1, 50, 11, true)
        }
    },
    plugins: [errorBars, makeFrame({ marks: leftZoom.concat(rightZoom), yTitle: { x: 43, size: 21 } })]
});

new Chart(document.getElementById('leftPanel'), {
    type: 'scatter',
    data: { datasets: [blackSet(toPoints(blackEarly), 3.6, 2)] },
    options: {
        ...common,
        layout: { padding: { left: 21, right: 425, top: 368, bottom: 0 } },
        scales: {
            x: xAxis(2005.9245, 2013.306, leftYears, 14, 22, null),
            y: yAxis(-0.0196, 0.21, zoomRateTicks, 2, 40, 8, true)
        }
    },
    plugins: [errorBars, makeFrame({ links: leftZoom, yTitle: { x: 21, size: 20 } })]
});

new Chart(document.getElementById('rightPanel'), {
    type: 'scatter',
    data: { datasets: [blackSet(toPoints(blackLate), 3.6, 2)] },
    options: {
        ...common,
        layout: { padding: { left: 782, right: 2, top: 368, bottom: 0 } },
        scales: {
            x: xAxis(2016.4917, 2019.695, rightYears, 14, 22, null),
            y: yAxis(-0.0196, 0.21, zoomRateTicks, 2, 0, 0, false)
        }
    },
    plugins: [errorBars, makeFrame({ links: rightZoom })]
});
</script>
</body>
</html>
